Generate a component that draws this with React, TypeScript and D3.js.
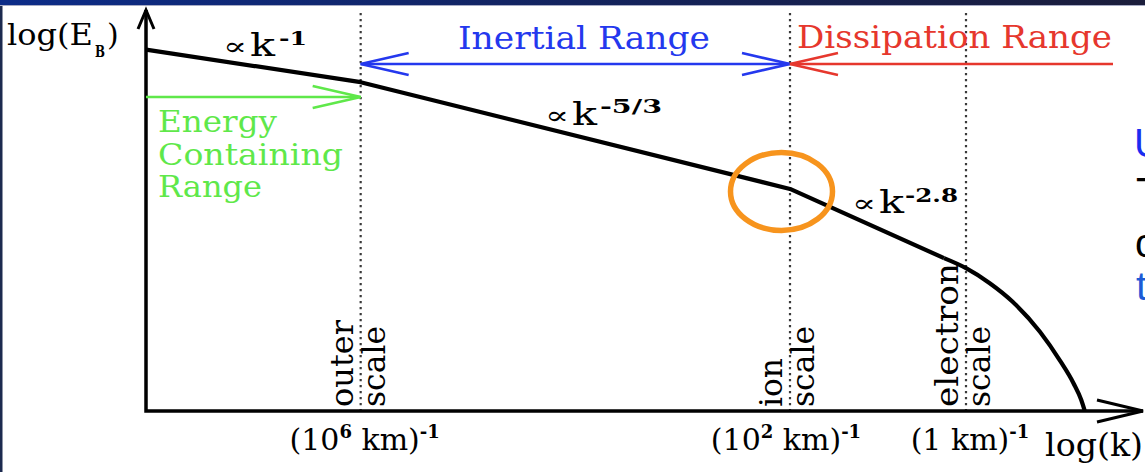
import React from "react";
import * as d3 from "d3";

const W = 1145;
const H = 472;
const SERIF = "'DejaVu Serif', 'Liberation Serif', serif";
const SANS = "'Liberation Sans', Arial, sans-serif";

// Characteristic scales, log10(k / km^-1)
const scaleNames = ["outer", "ion", "electron"];
const scaleLogK = [-6, -2, 0];
const tickMantissa = ["10", "10", "1"];
const tickExponent = ["6", "2", ""];

// Spectrum, power-law part (log k, log E_B)
const powerLogK = [-8, -6, -2, -0.25];
const powerLogE = [7.21, 6.56, 4.43, 3.05];

// Spectrum, steepening beyond the electron scale
const cutoffLogK = [-0.25, 0, 0.27, 0.53, 0.84, 1.07, 1.22, 1.31, 1.35];
const cutoffLogE = [3.05, 2.85, 2.55, 2.18, 1.58, 1.0, 0.56, 0.22, 0];

// Spectral index labels
const slopeLabels = ["-1", "-5/3", "-2.8"];

const BLUE = "#2438ee";
const RED = "#e6372d";
const GREEN = "#5fe84a";

export default function App() {
  const x = d3.scaleLinear().domain([-8, -2, 0, 2]).range([146, 790, 966, 1142]);
  const y = d3.scaleLinear().domain([0, 8]).range([411, 10]);

  const x0 = x(-8);
  const y0 = y(0);
  const yTop = y(8);

  const powerPts: [number, number][] = powerLogK.map((k, i) => [k, powerLogE[i]]);
  const cutoffPts: [number, number][] = cutoffLogK.map((k, i) => [k, cutoffLogE[i]]);
  const linePower = d3
    .line<[number, number]>()
    .x((d) => x(d[0]))
    .y((d) => y(d[1]))
    .curve(d3.curveLinear);
  const lineCutoff = d3
    .line<[number, number]>()
    .x((d) => x(d[0]))
    .y((d) => y(d[1]))
    .curve(d3.curveMonotoneX);

  const xOuter = x(scaleLogK[0]);
  const xIon = x(scaleLogK[1]);
  const yIon = y(powerLogE[2]);

  const arrowY = 64;
  const greenY = 97;
  const head = (tx: number, ty: number, dir: number, len = 48, half = 11) =>
    `M${tx - dir * len},${ty - half}L${tx},${ty}L${tx - dir * len},${ty + half}`;

  const wordOffsets = [-8, 24];

  const slopeSpots = [
    { px: 223, py: 56, sx: 279, sy: 45, sw: 28 },
    { px: 545, py: 125, sx: 600, sy: 113, sw: 62 },
    { px: 852, py: 213, sx: 905, sy: 202, sw: 53 },
  ];

  const fit = "spacingAndGlyphs";

  return (
    <svg
      width={W}
      height={H}
      viewBox={`0 0 ${W} ${H}`}
      style={{ position: "absolute", left: 0, top: 0, display: "block", background: "#fff" }}
    >
      <defs>
        <linearGradient id="topbar" x1="0" x2="1" y1="0" y2="0">
          <stop offset="0" stopColor="#0c2c88" />
          <stop offset="0.5" stopColor="#13235e" />
          <stop offset="1" stopColor="#1b1d3b" />
        </linearGradient>
      </defs>

      {/* slide frame */}
      <rect x={0} y={0} width={W} height={5} fill="url(#topbar)" />
      <rect x={0} y={5} width={W} height={1} fill="#a7abc4" />
      <rect x={0} y={6} width={2.5} height={H - 6} fill="#1c2a4f" />

      {/* scale markers */}
      {scaleLogK.map((k, i) => (
        <line
          key={"d" + i}
          x1={x(k)}
          x2={x(k)}
          y1={13}
          y2={y0}
          stroke="#3a3a3a"
          strokeWidth={2.2}
          strokeDasharray="2.2 3.8"
        />
      ))}

      {/* axes */}
      <g stroke="#000" strokeWidth={3.5} fill="none" strokeLinecap="butt">
        <path d={`M${x0},${yTop}V${y0}H${W - 2}`} />
        <path d={`M${x0 - 8},${yTop + 19}L${x0},${yTop}L${x0 + 8},${yTop + 19}`} strokeWidth={3} />
        <path d={head(W - 2, y0, 1, 46, 11)} strokeWidth={3} />
      </g>

      {/* spectrum */}
      <path d={linePower(powerPts) || ""} fill="none" stroke="#000" strokeWidth={4.2} strokeLinejoin="round" />
      <path d={lineCutoff(cutoffPts) || ""} fill="none" stroke="#000" strokeWidth={4.2} strokeLinecap="butt" />

      {/* ranges */}
      <g fill="none" strokeWidth={2.6}>
        <g stroke={BLUE}>
          <line x1={xOuter} x2={xIon} y1={arrowY} y2={arrowY} />
          <path d={head(xOuter, arrowY, -1)} />
          <path d={head(xIon, arrowY, 1)} />
        </g>
        <g stroke={RED}>
          <line x1={xIon} x2={1113} y1={arrowY} y2={arrowY} />
          <path d={head(xIon, arrowY, -1)} />
        </g>
        <g stroke={GREEN}>
          <line x1={x0} x2={xOuter} y1={greenY} y2={greenY} />
          <path d={head(xOuter, greenY, 1)} />
        </g>
      </g>

      <g fontFamily={SERIF} fontSize={32}>
        <text x={458} y={49} fill={BLUE} textLength={252} lengthAdjust={fit}>
          Inertial Range
        </text>
        <text x={797} y={48} fill={RED} textLength={315} lengthAdjust={fit}>
          Dissipation Range
        </text>
        <g fill={GREEN} fontSize={30}>
          <text x={158} y={132} textLength={119} lengthAdjust={fit}>Energy</text>
          <text x={158} y={165} textLength={185} lengthAdjust={fit}>Containing</text>
          <text x={158} y={197} textLength={104} lengthAdjust={fit}>Range</text>
        </g>
      </g>

      {/* spectral indices */}
      <g fontFamily={SERIF} fill="#000">
        {slopeLabels.map((s, i) => {
          const p = slopeSpots[i];
          return (
            <g key={"s" + i}>
              <text x={p.px} y={p.py - 1} fontSize={25} textLength={24} lengthAdjust={fit}>
                {"\u221d"}
              </text>
              <text x={p.px + 27} y={p.py} fontSize={32} textLength={25} lengthAdjust={fit}>
                k
              </text>
              <text x={p.sx} y={p.sy} fontSize={19} fontWeight="bold" textLength={p.sw} lengthAdjust={fit}>
                {s}
              </text>
            </g>
          );
        })}
      </g>

      {/* axis titles */}
      <g fontFamily={SERIF} fill="#000">
        <text x={7} y={45} fontSize={30} textLength={86} lengthAdjust={fit}>
          log(E
        </text>
        <text x={95} y={57} fontSize={17} fontWeight="bold" textLength={10} lengthAdjust={fit}>
          B
        </text>
        <text x={107} y={45} fontSize={30}>
          )
        </text>
        <text x={1045} y={456} fontSize={31} textLength={98} lengthAdjust={fit}>
          log(k)
        </text>
      </g>

      {/* scale names, rotated */}
      <g fontFamily={SERIF} fontSize={32} fill="#000">
        {scaleNames.map((name, i) => {
          const xs = x(scaleLogK[i]);
          const words = [name, "scale"];
          const lens = [name === "outer" ? 87 : name === "ion" ? 49 : 144, 81];
          return words.map((w, j) => (
            <text
              key={name + j}
              transform={`translate(${xs + wordOffsets[j]},407) rotate(-90)`}
              textLength={lens[j]}
              lengthAdjust={fit}
            >
              {w}
            </text>
          ));
        })}
      </g>

      {/* tick labels */}
      <g fontFamily={SERIF} fontSize={30} fill="#000" textAnchor="middle" style={{ whiteSpace: "pre" }}>
        {scaleLogK.map((k, i) => (
          <text key={"t" + i} x={x(k) + (i === 1 ? -4 : 4)} y={450}>
            {"(" + tickMantissa[i]}
            {tickExponent[i] ? (
              <tspan fontSize={18} dy={-12} fontWeight="bold">
                {tickExponent[i]}
              </tspan>
            ) : null}
            <tspan fontSize={30} dy={tickExponent[i] ? 12 : 0}>
              {" km)"}
            </tspan>
            <tspan fontSize={18} dy={-12} fontWeight="bold">
              {"-1"}
            </tspan>
          </text>
        ))}
      </g>

      {/* highlighted break */}
      <ellipse
        cx={xIon - 8.5}
        cy={yIon + 2.5}
        rx={51}
        ry={39}
        fill="none"
        stroke="#f7941d"
        strokeWidth={5.5}
      />

      {/* neighbouring slide text at the right edge */}
      <g fontFamily={SANS} fontSize={40}>
        <text x={1134} y={157} fill="#1a2cf0">U</text>
        <text x={1136} y={206} fill="#000">T</text>
        <text x={1135} y={257} fill="#000">c</text>
        <text x={1136} y={300} fill="#1d5bd6">t</text>
      </g>
    </svg>
  );
}
